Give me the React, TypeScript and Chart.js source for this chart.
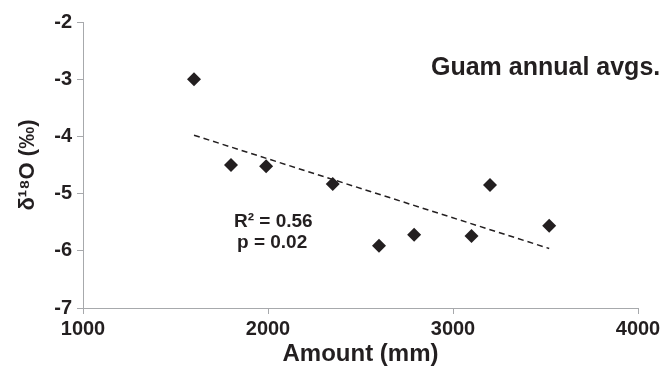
import React, { useEffect, useRef } from "react";
import { Chart, registerables } from "chart.js";

Chart.register(...registerables);

// Annual amount of rainfall (mm) and δ18O (‰)
const amounts = [1600, 1800, 1990, 2350, 2600, 2790, 3100, 3200, 3520];
const d18O = [-3.0, -4.5, -4.52, -4.83, -5.91, -5.72, -5.74, -4.85, -5.56];

// Linear trend end points
const trendX = [1600, 3520];
const trendY = [-3.98, -5.96];

const xTicks = [1000, 2000, 3000, 4000];
const yTicks = [-7, -6, -5, -4, -3, -2];

const plotTitle = "Guam annual avgs.";
const statLines = ["R\u00B2 = 0.56", "p = 0.02"];

const INK = "#231f20";
const AXIS = "#a7a9ac";
const FONT = "'Liberation Sans', Arial, Helvetica, sans-serif";

export default function App() {
  const ref = useRef<HTMLCanvasElement | null>(null);

  useEffect(() => {
    document.body.style.margin = "0";
    const canvas = ref.current;
    if (!canvas) return;

    const textPlugin = {
      id: "annotText",
      afterDraw(chart: any) {
        const ctx = chart.ctx as CanvasRenderingContext2D;
        ctx.save();
        ctx.fillStyle = INK;
        ctx.textAlign = "left";
        ctx.textBaseline = "alphabetic";
        ctx.font = `bold 25px ${FONT}`;
        ctx.fillText(plotTitle, 431, 75);
        ctx.font = `bold 19px ${FONT}`;
        ctx.fillText(statLines[0], 234, 227);
        ctx.fillText(statLines[1], 237, 248);
        ctx.restore();
      },
    };

    const chart = new Chart(canvas, {
      type: "scatter",
      data: {
        datasets: [
          {
            label: "trend",
            type: "line",
            data: trendX.map((x, i) => ({ x, y: trendY[i] })),
            borderColor: INK,
            borderWidth: 1.5,
            borderDash: [6, 4],
            pointRadius: 0,
            fill: false,
          } as any,
          {
            label: "Guam",
            data: amounts.map((x, i) => ({ x, y: d18O[i] })),
            pointStyle: "rectRot",
            pointRadius: 7,
            backgroundColor: INK,
            borderColor: INK,
            borderWidth: 0,
          },
        ],
      },
      options: {
        animation: false,
        responsive: false,
        layout: { padding: { top: 22, right: 28, left: 0, bottom: 0 } },
        plugins: {
          legend: { display: false },
          tooltip: { enabled: false },
        },
        scales: {
          x: {
            type: "linear",
            min: xTicks[0],
            max: xTicks[xTicks.length - 1],
            afterBuildTicks: (scale: any) => {
              scale.ticks = xTicks.map((v) => ({ value: v }));
            },
            afterFit: (scale: any) => {
              scale.height = 58;
            },
            grid: {
              drawOnChartArea: false,
              drawTicks: true,
              tickLength: 6,
              color: AXIS,
            },
            border: { color: AXIS, width: 1 },
            ticks: {
              color: INK,
              padding: 3,
              maxRotation: 0,
              font: { family: FONT, size: 20, weight: "bold" },
              callback: (v: any) => String(v),
            },
            title: {
              display: true,
              text: "Amount (mm)",
              color: INK,
              font: { family: FONT, size: 24, weight: "bold", lineHeight: 1.0 },
              padding: { top: 0, bottom: 0 },
            },
          },
          y: {
            type: "linear",
            min: yTicks[0],
            max: yTicks[yTicks.length - 1],
            afterBuildTicks: (scale: any) => {
              scale.ticks = yTicks.map((v) => ({ value: v }));
            },
            afterFit: (scale: any) => {
              scale.width = 83;
            },
            grid: {
              drawOnChartArea: false,
              drawTicks: true,
              tickLength: 6,
              color: AXIS,
            },
            border: { color: AXIS, width: 1 },
            ticks: {
              color: INK,
              padding: 5,
              font: { family: FONT, size: 20, weight: "bold" },
              callback: (v: any) => String(v),
            },
            title: {
              display: true,
              text: "\u03B4\u00B9\u2078O (\u2030)",
              color: INK,
              font: { family: FONT, size: 22, weight: "bold" },
              padding: { top: 15, bottom: 0 },
            },
          },
        },
      },
      plugins: [textPlugin],
    });

    return () => chart.destroy();
  }, []);

  return (
    <div style={{ width: 666, height: 366 }}>
      <canvas ref={ref} width={666} height={366} style={{ display: "block" }} />
    </div>
  );
}
